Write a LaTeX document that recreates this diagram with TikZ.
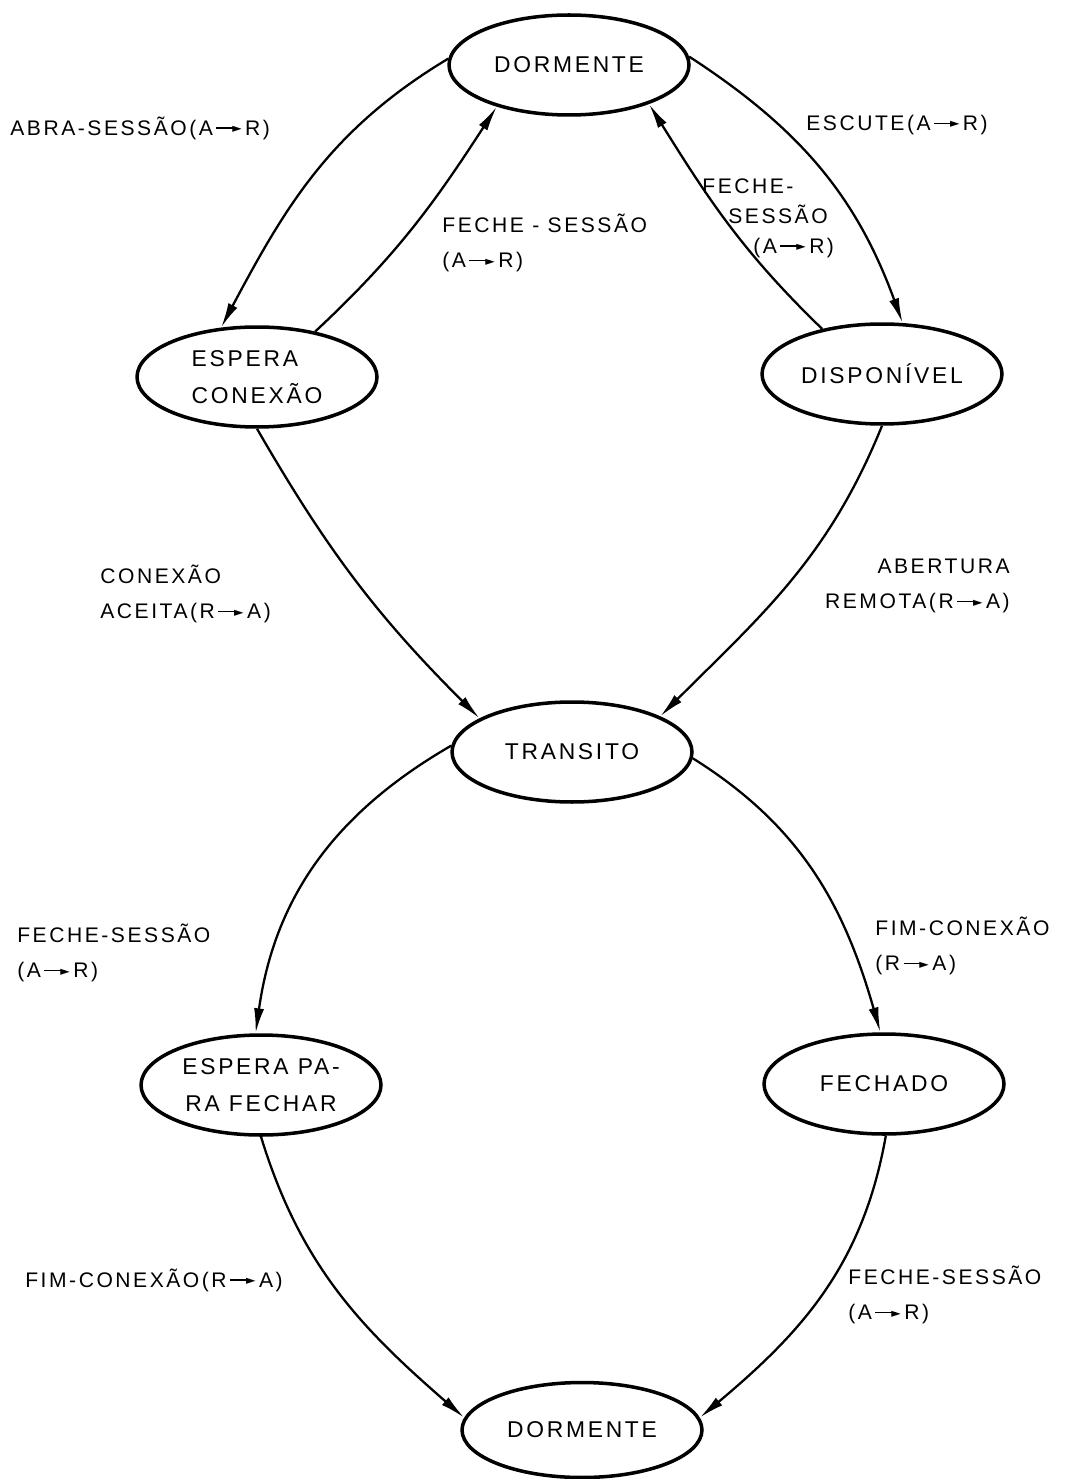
\documentclass[tikz,border=0pt]{standalone}
\usepackage{fontspec}
\setmainfont{Liberation Sans}[LetterSpace=12]
\newfontfamily\setafont{DejaVu Sans}
\usetikzlibrary{shapes.geometric,arrows.meta}
\newcommand{\seta}{\kern2pt\rule[0.3em]{0.95em}{0.07em}\kern-0.2em\raisebox{0.12em}{\setafont\fontsize{7}{7}\selectfont ►}\kern2pt}

\begin{document}
\begin{tikzpicture}[x=0.02cm,y=-0.02cm,
    estado/.style={ellipse, draw, line width=2pt, minimum width=4.8cm, minimum height=2cm, inner sep=0pt, align=left, font=\fontsize{13}{21}\selectfont},
    trans/.style={line width=1.3pt, -{Latex[length=5mm,width=2mm]}},
    rotulo/.style={anchor=west, align=left, inner sep=0pt, font=\fontsize{12}{20}\selectfont}]

    \useasboundingbox (0,0) rectangle (1083,1479);

    % estados
    \node[estado] (dorm1) at (569,65) {DORMENTE};
    \node[estado] (espera) at (257,377) {ESPERA\\CONEXÃO};
    \node[estado] (disp) at (882,374) {DISPONÍVEL};
    \node[estado] (trans) at (572,752) {TRANSITO};
    \node[estado, align=center] (esppf) at (261,1085) {ESPERA PA-\\RA FECHAR};
    \node[estado] (fech) at (884,1084) {FECHADO};
    \node[estado, minimum height=1.9cm] (dorm2) at (582,1430) {DORMENTE};

    % transicoes
    \foreach \a/\b/\o/\i in {dorm1.177/espera.126/211/62, espera.38/dorm1.210/43/237,
        dorm1.4/disp.68/-33/110, disp.143/dorm1.334/136/302,
        espera.270/trans.160/-60/135, disp.270/trans.22/248/45,
        trans.177/esppf.96/210/82, trans.357/fech.94/-32/106,
        esppf.270/dorm2.174/-73/139, fech.272/dorm2.6/260/40} {
        \draw[trans] (\a) to[out=\o, in=\i] (\b);
    }

    % rotulos
    \node[rotulo] (r1) at (10,128) {ABRA-SESSÃO(A\seta R)};
    \node[rotulo] (r2) at (442,243) {FECHE - SESSÃO\\(A\seta R)};
    \node[rotulo] (r3) at (806,125) {ESCUTE(A\seta R)};
    \node[rotulo, font=\fontsize{12}{17}\selectfont] (r4) at (702,218) {FECHE-\\\hspace*{0.52cm}SESSÃO\\\hspace*{1.02cm}(A\seta R)};
    \node[rotulo] (r5) at (100,594) {CONEXÃO\\ACEITA(R\seta A)};
    \node[rotulo, anchor=east, align=right] (r6) at (1010,586) {ABERTURA\\REMOTA(R\seta A)};
    \node[rotulo] (r7) at (17,953) {FECHE-SESSÃO\\(A\seta R)};
    \node[rotulo] (r8) at (875,946) {FIM-CONEXÃO\\(R\seta A)};
    \node[rotulo] (r9) at (25,1280) {FIM-CONEXÃO(R\seta A)};
    \node[rotulo] (r10) at (848,1295) {FECHE-SESSÃO\\(A\seta R)};

\end{tikzpicture}
\end{document}
